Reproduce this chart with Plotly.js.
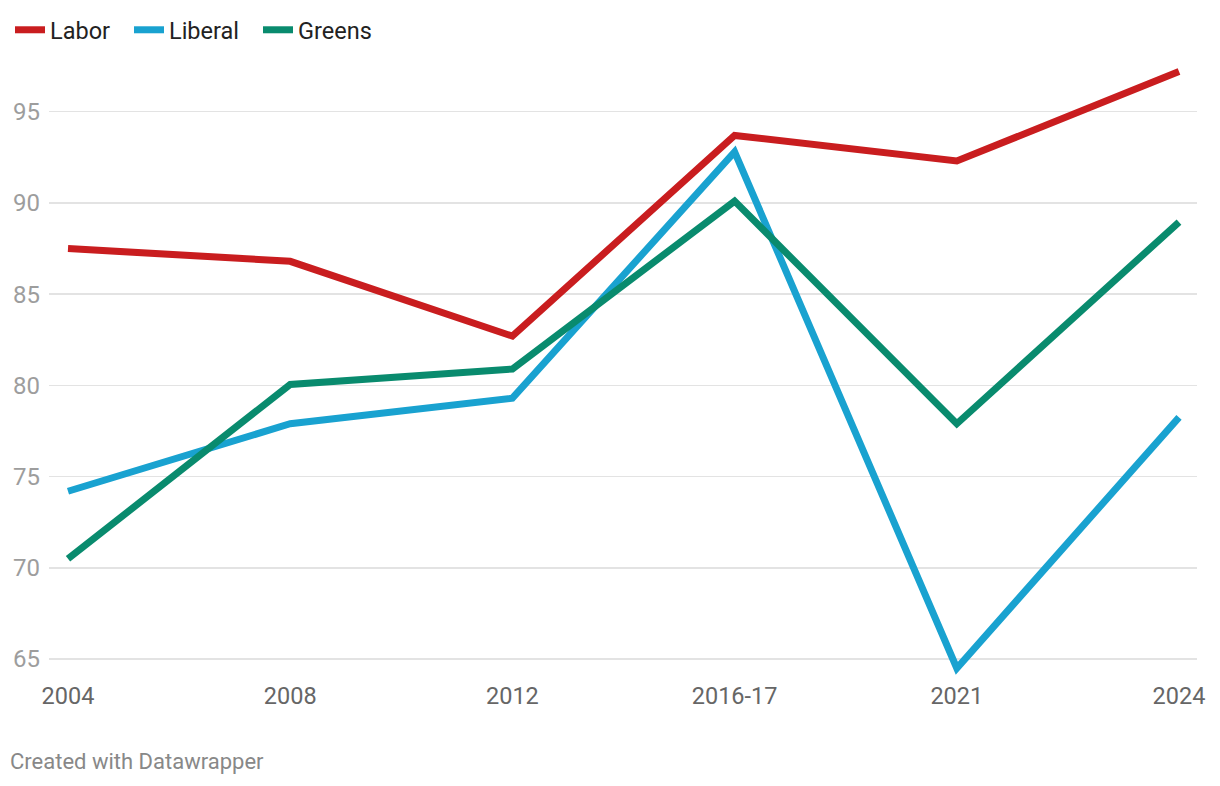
<!DOCTYPE html>
<html>
<head>
<meta charset="utf-8">
<script src="https://cdn.plot.ly/plotly-3.0.1.min.js"></script>
<style>
html,body{margin:0;padding:0;background:#fff;}
#chart{width:1220px;height:786px;}
</style>
</head>
<body>
<div id="chart"></div>
<script>
const categories = ["2004", "2008", "2012", "2016-17", "2021", "2024"];
const labor = [87.5, 86.8, 82.7, 93.7, 92.3, 97.2];
const liberal = [74.2, 77.9, 79.3, 92.8, 64.5, 78.25];
const greens = [70.5, 80.05, 80.9, 90.1, 77.9, 88.95];
const yTicks = [65, 70, 75, 80, 85, 90, 95];

const xIdx = categories.map((c, i) => i);
function trace(name, vals, color, legendId) {
  return {
    x: xIdx, y: vals, name: name, type: 'scatter', mode: 'lines',
    line: {color: color, width: 7},
    legend: legendId,
    hoverinfo: 'skip'
  };
}
const data = [
  trace('Labor', labor, '#c91d1f', 'legend'),
  trace('Liberal', liberal, '#19a2d0', 'legend2'),
  trace('Greens', greens, '#098b6e', 'legend3')
];
function leg(px) {
  return {
    orientation: 'h', xref: 'container', yref: 'container',
    x: px / 1220, y: 1 - 30 / 786, xanchor: 'left', yanchor: 'middle',
    font: {size: 23.5, color: '#222'}, itemwidth: 30, bgcolor: 'rgba(0,0,0,0)'
  };
}
const layout = {
  width: 1220, height: 786,
  margin: {l: 49, r: 23, t: 49, b: 107},
  paper_bgcolor: '#fff', plot_bgcolor: '#fff',
  font: {family: 'Roboto, sans-serif'},
  showlegend: true,
  legend: leg(10),
  legend2: leg(129),
  legend3: leg(258),
  xaxis: {
    range: [-0.0855, 5.081], tickvals: xIdx, ticktext: categories,
    showgrid: false, zeroline: false, showline: false, ticks: '',
    tickfont: {size: 23.5, color: '#666'}, fixedrange: true
  },
  yaxis: {
    range: [63.909, 98.273], tickvals: yTicks, ticktext: yTicks.map(String),
    showgrid: true, gridcolor: '#e3e3e3', gridwidth: 1.5, zeroline: false, showline: false,
    ticks: '', ticklabelstandoff: 8,
    tickfont: {size: 24, color: '#9d9d9d'}, fixedrange: true
  },
  annotations: [{
    text: 'Created with Datawrapper', xref: 'paper', yref: 'paper',
    x: (8 - 49) / 1148, y: (679 - 762) / 630, xanchor: 'left', yanchor: 'middle',
    showarrow: false, font: {size: 22, color: '#888'}
  }]
};
Plotly.newPlot('chart', data, layout, {displayModeBar: false, staticPlot: true});
</script>
</body>
</html>
